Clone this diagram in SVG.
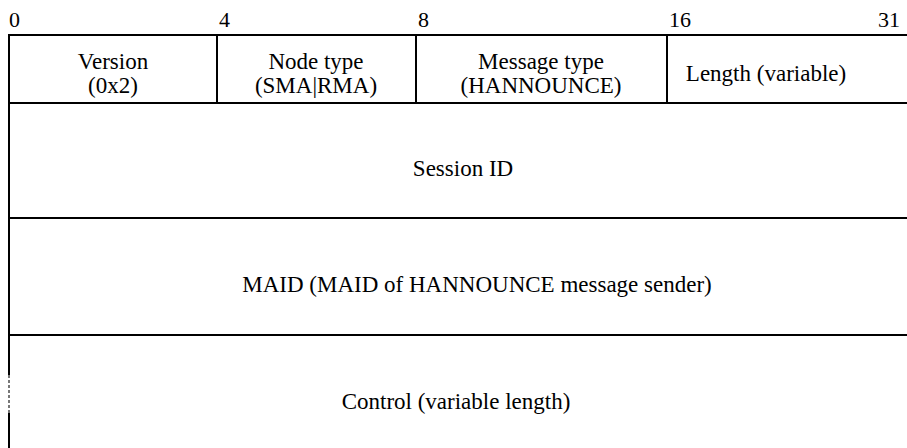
<svg xmlns="http://www.w3.org/2000/svg" width="907" height="448" viewBox="0 0 907 448">
<style>
text{font-family:'Liberation Serif','Times New Roman',serif;font-size:23px;fill:#000}
.c{text-anchor:middle}
.t{font-size:22px}
.ln{stroke:#000;stroke-width:2;fill:none}
</style>
<rect width="907" height="448" fill="#fff"/>
<g id="ticks">
<text class="t" x="9" y="27">0</text>
<text class="t" x="219" y="27">4</text>
<text class="t" x="418" y="27">8</text>
<text class="t" x="669" y="27">16</text>
<text class="t" x="900" y="27" text-anchor="end">31</text>
</g>
<g id="connectors">
<path class="ln" d="M9,375V35H907M9,103H907M9,218H907M9,335H907M217,35V103M416,35V103M667,35V103M9,413V448"/>
<path d="M9,375V413" stroke="#777" stroke-width="2" stroke-dasharray="3,2"/>
</g>
<g id="version"><text class="c" x="113" y="69">Version</text><text class="c" x="113" y="93">(0x2)</text></g>
<g id="nodetype"><text class="c" x="316" y="69">Node type</text><text class="c" x="316" y="93">(SMA|RMA)</text></g>
<g id="msgtype"><text class="c" x="541" y="69">Message type</text><text class="c" x="541" y="93">(HANNOUNCE)</text></g>
<g id="length"><text class="c" x="766" y="81">Length (variable)</text></g>
<g id="session"><text class="c" x="463" y="176">Session ID</text></g>
<g id="maid"><text class="c" x="477" y="292">MAID (MAID of HANNOUNCE message sender)</text></g>
<g id="control"><text class="c" x="456" y="409">Control (variable length)</text></g>
</svg>
